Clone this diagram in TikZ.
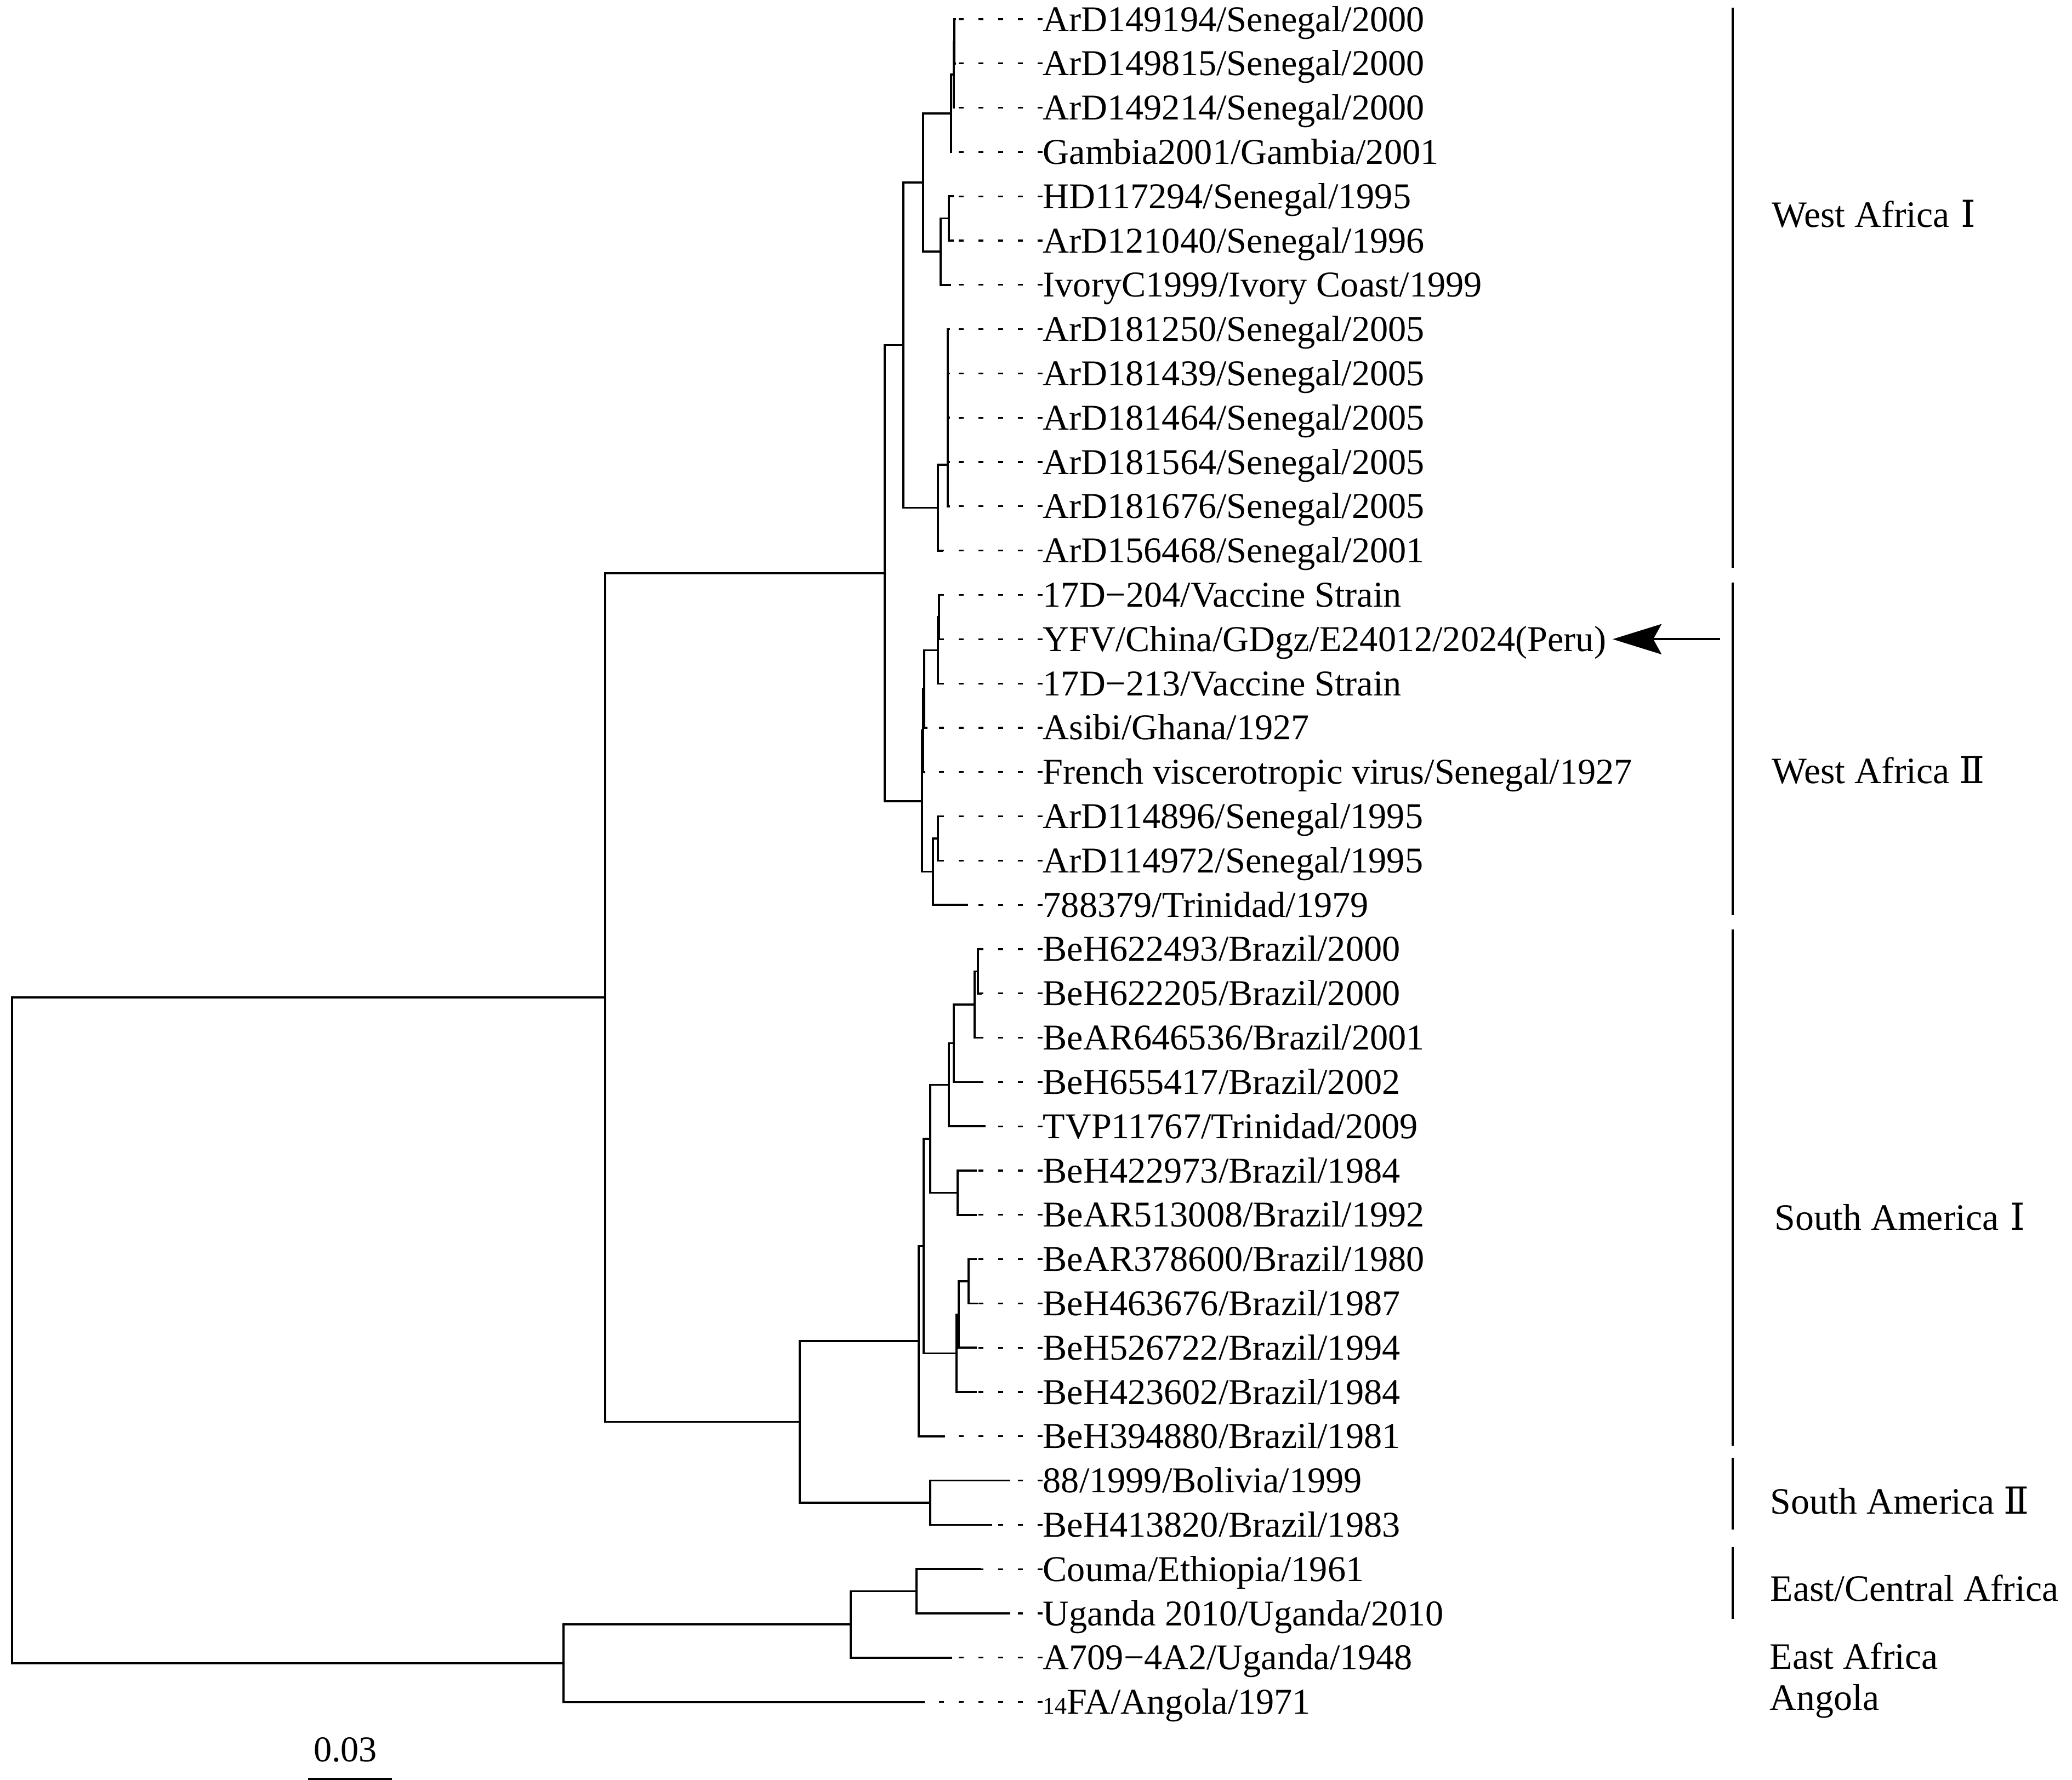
\documentclass[tikz,border=0pt]{standalone}
\usepackage{fontspec}
\setmainfont{Liberation Serif}
\newfontfamily\numfont{DejaVu Serif}
\usepackage{tikz}
\usetikzlibrary{arrows.meta,calc}

\begin{document}
\begin{tikzpicture}[
  x=0.01cm, y=-0.8076cm,
  twig/.style={line width=0.036cm},
  trail/.style={line width=0.032cm, dash pattern=on 0.09cm off 0.27cm},
  taxon/.style={anchor=base west, inner sep=0pt, yshift=-0.22cm, font=\fontsize{18.85}{22}\selectfont},
  clade/.style={anchor=base west, inner sep=0pt, font=\fontsize{19.3}{23}\selectfont},
  cbar/.style={line width=0.038cm},
  pointer/.style={-{Stealth[length=0.89cm, width=0.55cm, inset=0.15cm]}, line width=0.042cm}
]
  \useasboundingbox (0,-0.4334) rectangle (3780,39.760);

  % Taxa
  \node[taxon] (L1) at (1902,0) {ArD149194/Senegal/2000};
  \node[taxon] (L2) at (1902,1) {ArD149815/Senegal/2000};
  \node[taxon] (L3) at (1902,2) {ArD149214/Senegal/2000};
  \node[taxon] (L4) at (1902,3) {Gambia2001/Gambia/2001};
  \node[taxon] (L5) at (1902,4) {HD117294/Senegal/1995};
  \node[taxon] (L6) at (1902,5) {ArD121040/Senegal/1996};
  \node[taxon] (L7) at (1902,6) {IvoryC1999/Ivory Coast/1999};
  \node[taxon] (L8) at (1902,7) {ArD181250/Senegal/2005};
  \node[taxon] (L9) at (1902,8) {ArD181439/Senegal/2005};
  \node[taxon] (L10) at (1902,9) {ArD181464/Senegal/2005};
  \node[taxon] (L11) at (1902,10) {ArD181564/Senegal/2005};
  \node[taxon] (L12) at (1902,11) {ArD181676/Senegal/2005};
  \node[taxon] (L13) at (1902,12) {ArD156468/Senegal/2001};
  \node[taxon] (L14) at (1902,13) {17D−204/Vaccine Strain};
  \node[taxon] (L15) at (1902,14) {YFV/China/GDgz/E24012/2024(Peru)};
  \node[taxon] (L16) at (1902,15) {17D−213/Vaccine Strain};
  \node[taxon] (L17) at (1902,16) {Asibi/Ghana/1927};
  \node[taxon] (L18) at (1902,17) {French viscerotropic virus/Senegal/1927};
  \node[taxon] (L19) at (1902,18) {ArD114896/Senegal/1995};
  \node[taxon] (L20) at (1902,19) {ArD114972/Senegal/1995};
  \node[taxon] (L21) at (1902,20) {788379/Trinidad/1979};
  \node[taxon] (L22) at (1902,21) {BeH622493/Brazil/2000};
  \node[taxon] (L23) at (1902,22) {BeH622205/Brazil/2000};
  \node[taxon] (L24) at (1902,23) {BeAR646536/Brazil/2001};
  \node[taxon] (L25) at (1902,24) {BeH655417/Brazil/2002};
  \node[taxon] (L26) at (1902,25) {TVP11767/Trinidad/2009};
  \node[taxon] (L27) at (1902,26) {BeH422973/Brazil/1984};
  \node[taxon] (L28) at (1902,27) {BeAR513008/Brazil/1992};
  \node[taxon] (L29) at (1902,28) {BeAR378600/Brazil/1980};
  \node[taxon] (L30) at (1902,29) {BeH463676/Brazil/1987};
  \node[taxon] (L31) at (1902,30) {BeH526722/Brazil/1994};
  \node[taxon] (L32) at (1902,31) {BeH423602/Brazil/1984};
  \node[taxon] (L33) at (1902,32) {BeH394880/Brazil/1981};
  \node[taxon] (L34) at (1902,33) {88/1999/Bolivia/1999};
  \node[taxon] (L35) at (1902,34) {BeH413820/Brazil/1983};
  \node[taxon] (L36) at (1902,35) {Couma/Ethiopia/1961};
  \node[taxon] (L37) at (1902,36) {Uganda 2010/Uganda/2010};
  \node[taxon] (L38) at (1902,37) {A709−4A2/Uganda/1948};
  \node[taxon] (L39) at (1902,38) {{\fontsize{12.5}{14}\selectfont 14}FA/Angola/1971};

  % Branch tips
  \coordinate (t1) at (1744,0);   \coordinate (t2) at (1744,1);
  \coordinate (t3) at (1742,2);   \coordinate (t4) at (1737,3);
  \coordinate (t5) at (1740,4);   \coordinate (t6) at (1740,5);
  \coordinate (t7) at (1735,6);   \coordinate (t8) at (1733,7);
  \coordinate (t9) at (1733,8);   \coordinate (t10) at (1733,9);
  \coordinate (t11) at (1733,10); \coordinate (t12) at (1733,11);
  \coordinate (t13) at (1720,12); \coordinate (t14) at (1716,13);
  \coordinate (t15) at (1716,14); \coordinate (t16) at (1713,15);
  \coordinate (t17) at (1692,16); \coordinate (t18) at (1688,17);
  \coordinate (t19) at (1716,18); \coordinate (t20) at (1716,19);
  \coordinate (t21) at (1766,20); \coordinate (t22) at (1788,21);
  \coordinate (t23) at (1791,22); \coordinate (t24) at (1785,23);
  \coordinate (t25) at (1791,24); \coordinate (t26) at (1798,25);
  \coordinate (t27) at (1782,26); \coordinate (t28) at (1782,27);
  \coordinate (t29) at (1782,28); \coordinate (t30) at (1784,29);
  \coordinate (t31) at (1782,30); \coordinate (t32) at (1782,31);
  \coordinate (t33) at (1724,32); \coordinate (t34) at (1843,33);
  \coordinate (t35) at (1810,34); \coordinate (t36) at (1789,35);
  \coordinate (t37) at (1843,36); \coordinate (t38) at (1737,37);
  \coordinate (t39) at (1687,38);

  % Internal nodes
  \coordinate (n12) at (1741,0.5);
  \coordinate (n123) at (1740,1.25);
  \coordinate (cA) at (1735,2.125);
  \coordinate (n56) at (1731,4.5);
  \coordinate (cB) at (1716,5.25);
  \coordinate (wa1a) at (1684,3.6875);
  \coordinate (m1) at (1729,7.5);
  \coordinate (m2) at (1729,8.25);
  \coordinate (m3) at (1729,9.125);
  \coordinate (m4) at (1729,10.0625);
  \coordinate (cC) at (1711,11.031);
  \coordinate (wa1) at (1648,7.359);
  \coordinate (v1) at (1713,13.5);
  \coordinate (v2) at (1711,14.25);
  \coordinate (v3) at (1686,15.125);
  \coordinate (v4) at (1684,16.0625);
  \coordinate (d1) at (1711,18.5);
  \coordinate (d2) at (1702,19.25);
  \coordinate (wa2) at (1682,17.656);
  \coordinate (wa) at (1614,12.508);
  \coordinate (s1) at (1784,21.5);
  \coordinate (s2) at (1778,22.25);
  \coordinate (s3) at (1740,23.125);
  \coordinate (s4) at (1731,24.0625);
  \coordinate (s5) at (1747,26.5);
  \coordinate (s6) at (1697,25.281);
  \coordinate (s7) at (1767,28.5);
  \coordinate (s8) at (1749,29.25);
  \coordinate (s9) at (1745,30.125);
  \coordinate (s10) at (1685,27.703);
  \coordinate (sa1) at (1676,29.852);
  \coordinate (sa2) at (1697,33.5);
  \coordinate (sa) at (1459,31.676);
  \coordinate (am) at (1104,22.092);
  \coordinate (e1) at (1672,35.5);
  \coordinate (e2) at (1552,36.25);
  \coordinate (e3) at (1028,37.125);
  \coordinate (root) at (22,29.61);

  % Branches
  \draw[twig] (root) |- (am) (root) |- (e3);
  \draw[twig] (am) |- (wa) (am) |- (sa);
  \draw[twig] (wa) |- (wa1) (wa) |- (wa2);
  \draw[twig] (wa1) |- (wa1a) (wa1) |- (cC);
  \draw[twig] (wa1a) |- (cA) (wa1a) |- (cB);
  \draw[twig] (cA) |- (n123) (cA) |- (t4) (n123) |- (n12) (n123) |- (t3)
              (n12) |- (t1) (n12) |- (t2);
  \draw[twig] (cB) |- (n56) (cB) |- (t7) (n56) |- (t5) (n56) |- (t6);
  \draw[twig] (cC) |- (m4) (cC) |- (t13) (m4) |- (m3) (m4) |- (t12)
              (m3) |- (m2) (m3) |- (t11) (m2) |- (m1) (m2) |- (t10)
              (m1) |- (t8) (m1) |- (t9);
  \draw[twig] (wa2) |- (v4) (wa2) |- (d2);
  \draw[twig] (v4) |- (v3) (v4) |- (t18) (v3) |- (v2) (v3) |- (t17)
              (v2) |- (v1) (v2) |- (t16) (v1) |- (t14) (v1) |- (t15);
  \draw[twig] (d2) |- (d1) (d2) |- (t21) (d1) |- (t19) (d1) |- (t20);
  \draw[twig] (sa) |- (sa1) (sa) |- (sa2);
  \draw[twig] (sa1) |- (s10) (sa1) |- (t33);
  \draw[twig] (s10) |- (s6) (s10) |- (s9);
  \draw[twig] (s6) |- (s4) (s6) |- (s5) (s5) |- (t27) (s5) |- (t28);
  \draw[twig] (s4) |- (s3) (s4) |- (t26) (s3) |- (s2) (s3) |- (t25)
              (s2) |- (s1) (s2) |- (t24) (s1) |- (t22) (s1) |- (t23);
  \draw[twig] (s9) |- (s8) (s9) |- (t32) (s8) |- (s7) (s8) |- (t31)
              (s7) |- (t29) (s7) |- (t30);
  \draw[twig] (sa2) |- (t34) (sa2) |- (t35);
  \draw[twig] (e3) |- (e2) (e3) |- (t39) (e2) |- (e1) (e2) |- (t38)
              (e1) |- (t36) (e1) |- (t37);

  % Dotted leaders
  \draw[trail] (L1.west |- t1) -- (t1);
  \draw[trail] (L2.west |- t2) -- (t2);
  \draw[trail] (L3.west |- t3) -- (t3);
  \draw[trail] (L4.west |- t4) -- (t4);
  \draw[trail] (L5.west |- t5) -- (t5);
  \draw[trail] (L6.west |- t6) -- (t6);
  \draw[trail] (L7.west |- t7) -- (t7);
  \draw[trail] (L8.west |- t8) -- (t8);
  \draw[trail] (L9.west |- t9) -- (t9);
  \draw[trail] (L10.west |- t10) -- (t10);
  \draw[trail] (L11.west |- t11) -- (t11);
  \draw[trail] (L12.west |- t12) -- (t12);
  \draw[trail] (L13.west |- t13) -- (t13);
  \draw[trail] (L14.west |- t14) -- (t14);
  \draw[trail] (L15.west |- t15) -- (t15);
  \draw[trail] (L16.west |- t16) -- (t16);
  \draw[trail] (L17.west |- t17) -- (t17);
  \draw[trail] (L18.west |- t18) -- (t18);
  \draw[trail] (L19.west |- t19) -- (t19);
  \draw[trail] (L20.west |- t20) -- (t20);
  \draw[trail] (L21.west |- t21) -- (t21);
  \draw[trail] (L22.west |- t22) -- (t22);
  \draw[trail] (L23.west |- t23) -- (t23);
  \draw[trail] (L24.west |- t24) -- (t24);
  \draw[trail] (L25.west |- t25) -- (t25);
  \draw[trail] (L26.west |- t26) -- (t26);
  \draw[trail] (L27.west |- t27) -- (t27);
  \draw[trail] (L28.west |- t28) -- (t28);
  \draw[trail] (L29.west |- t29) -- (t29);
  \draw[trail] (L30.west |- t30) -- (t30);
  \draw[trail] (L31.west |- t31) -- (t31);
  \draw[trail] (L32.west |- t32) -- (t32);
  \draw[trail] (L33.west |- t33) -- (t33);
  \draw[trail] (L34.west |- t34) -- (t34);
  \draw[trail] (L35.west |- t35) -- (t35);
  \draw[trail] (L36.west |- t36) -- (t36);
  \draw[trail] (L37.west |- t37) -- (t37);
  \draw[trail] (L38.west |- t38) -- (t38);
  \draw[trail] (L39.west |- t39) -- (t39);

  % New strain marker
  \coordinate (atail) at (3138,14);
  \coordinate (ahead) at (2942,14);
  \draw[pointer] (atail) -- (ahead);

  % Genotype bars and names
  \draw[cbar] (3161,-0.26) -- (3161,12.39);
  \draw[cbar] (3161,12.72) -- (3161,20.23);
  \draw[cbar] (3161,20.55) -- (3161,32.21);
  \draw[cbar] (3161,32.49) -- (3161,34.10);
  \draw[cbar] (3161,34.50) -- (3161,36.12);
  \node[clade] (waI) at (3232,4.69) {West Africa\hspace{0.3em}{\numfont Ⅰ}};
  \node[clade] (waII) at (3232,17.26) {West Africa\hspace{0.25em}{\numfont Ⅱ}};
  \node[clade] (saI) at (3237,27.34) {South America\hspace{0.3em}{\numfont Ⅰ}};
  \node[clade] (saII) at (3229,33.75) {South America\hspace{0.25em}{\numfont Ⅱ}};
  \node[clade] (eca) at (3229,35.72) {East/Central Africa};
  \node[clade] (ea) at (3228,37.26) {East Africa};
  \node[clade] (ang) at (3228,38.18) {Angola};

  % Scale
  \coordinate (sb1) at (562,39.735);
  \coordinate (sb2) at (715,39.735);
  \draw[line width=0.045cm] (sb1) -- (sb2);
  \node[anchor=base, inner sep=0pt, font=\fontsize{18.85}{22}\selectfont] (sc) at (630,39.35) {0.03};

\end{tikzpicture}
\end{document}
